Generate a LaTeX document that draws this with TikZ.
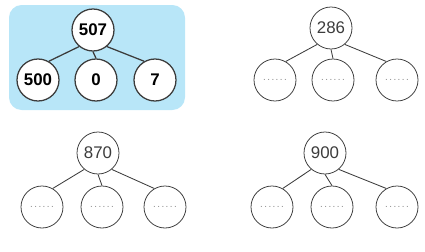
\documentclass[tikz,border=0pt]{standalone}
\usepackage{fontspec}
\setsansfont{Liberation Sans}
\usetikzlibrary{positioning}
\definecolor{panelblue}{RGB}{184,230,248}
\definecolor{inkgrey}{RGB}{60,60,60}
\definecolor{dotgrey}{RGB}{140,140,140}

\begin{document}
\begin{tikzpicture}[x=0.025cm, y=-0.025cm, font=\sffamily,
  bubble/.style={draw=inkgrey, circle, fill=white, minimum size=1.05cm, inner sep=0pt, line width=0.55pt},
  solved/.style={bubble, line width=0.9pt, font=\sffamily\bfseries\large},
  number/.style={bubble, font=\sffamily\large, text=inkgrey},
  blank/.style={bubble, font=\sffamily\scriptsize\addfontfeature{LetterSpace=15}, text=dotgrey},
  link/.style={draw=inkgrey, line width=0.6pt}]
\useasboundingbox (0,0) rectangle (425,251);
\fill[panelblue, rounded corners=9pt] (9,5) rectangle (185,110);

% example: 507 = 500 + 0 + 7
\node[solved] (a) at (93,30) {507};
\node[solved] (a1) at (38,80) {500};
\node[solved] (a2) at (96,80) {0};
\node[solved] (a3) at (155,80) {7};
\draw[link, line width=0.9pt] (a.230) -- (a1.60) (a.south) -- (a2.north) (a.310) -- (a3.120);

% 286
\node[number] (b) at (331,28) {286};
\node[blank] (b1) at (275,80) {......};
\node[blank] (b2) at (333,80) {......};
\node[blank] (b3) at (397,80) {......};

% 870
\node[number] (c) at (98,153) {870};
\node[blank] (c1) at (42,207) {......};
\node[blank] (c2) at (102,207) {......};
\node[blank] (c3) at (165,207) {......};

% 900
\node[number] (d) at (325,153) {900};
\node[blank] (d1) at (272,207) {......};
\node[blank] (d2) at (332,207) {......};
\node[blank] (d3) at (397,207) {......};

\foreach \p in {b,c,d}
  \draw[link] (\p.230) -- (\p1.60) (\p.south) -- (\p2.north) (\p.310) -- (\p3.120);
\end{tikzpicture}
\end{document}
